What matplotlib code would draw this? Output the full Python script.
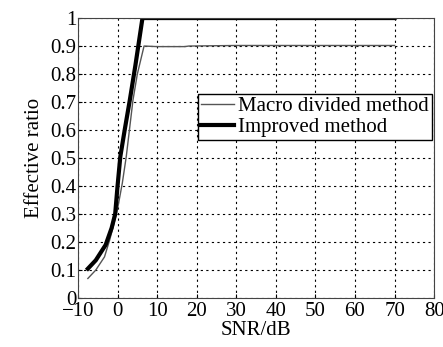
import numpy as np
import matplotlib
matplotlib.use('Agg')
import matplotlib.pyplot as plt

plt.rcParams['font.family'] = ['Liberation Serif', 'DejaVu Serif']

# Macro divided method (thin gray line)
snr_macro = [-7.5, -5.5, -3.3, -2.0, -1.0, 0.1, 1.2, 2.2, 3.0, 3.9, 5.0, 6.7, 10, 17, 18, 30, 50, 70]
ratio_macro = [0.07, 0.10, 0.147, 0.207, 0.26, 0.326, 0.41, 0.505, 0.60, 0.707, 0.80, 0.90, 0.898, 0.898, 0.90, 0.902, 0.902, 0.902]

# Improved method (thick black line)
snr_impr = [-7.5, -5.5, -3.0, -1.5, -0.6, 0.0, 0.7, 1.8, 3.1, 4.5, 6.3, 10, 30, 50, 70]
ratio_impr = [0.105, 0.135, 0.19, 0.25, 0.30, 0.40, 0.505, 0.60, 0.707, 0.83, 1.0, 1.0, 1.0, 1.0, 1.0]

xticks = np.arange(-10, 81, 10)
yticks = np.arange(0, 1.01, 0.1)
ytick_labels = ['0', '0.1', '0.2', '0.3', '0.4', '0.5', '0.6', '0.7', '0.8', '0.9', '1']

fig = plt.figure(figsize=(4.43, 3.47), dpi=100)
ax = fig.add_axes([0.176, 0.141, 0.804, 0.807])

ax.plot(snr_macro, ratio_macro, color='#555555', linewidth=1.0, label='Macro divided method')
ax.plot(snr_impr, ratio_impr, color='black', linewidth=3.0, label='Improved method')

ax.set_xlim(-10, 80)
ax.set_ylim(0, 1)
ax.set_xticks(xticks)
ax.set_xticklabels(['\u221210'] + [str(v) for v in xticks[1:]])
ax.set_yticks(yticks)
ax.set_yticklabels(ytick_labels)
ax.tick_params(direction='in', length=3, labelsize=15)
ax.tick_params(axis='x', pad=3)
ax.tick_params(axis='y', pad=1)
ax.grid(True, linestyle=(0, (2, 3)), color='black', linewidth=0.8)
for s in ax.spines.values():
    s.set_color('#444444')

ax.set_xlabel('SNR/dB', fontsize=15, labelpad=0)
ax.set_ylabel('Effective ratio', fontsize=15, labelpad=5)

leg = ax.legend(loc='upper right', bbox_to_anchor=(0.995, 0.73), fontsize=15,
                fancybox=False, framealpha=1, edgecolor='black', borderpad=0.15,
                labelspacing=0.05, handlelength=1.6, handletextpad=0.2, borderaxespad=0)
leg.get_frame().set_linewidth(1.0)

fig.savefig('out.png', dpi=100)
